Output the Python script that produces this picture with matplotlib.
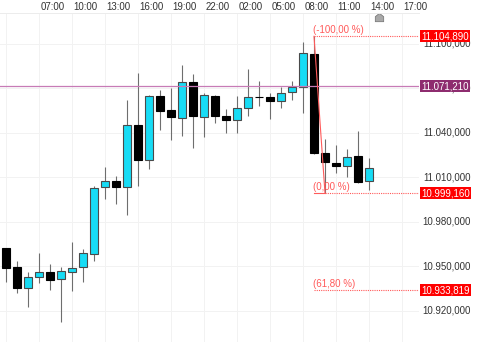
import matplotlib
matplotlib.use('Agg')
import matplotlib.pyplot as plt
from matplotlib.path import Path
import matplotlib.transforms as mtransforms
import numpy as np

plt.rcParams['font.family'] = ['Liberation Sans', 'DejaVu Sans']

# hourly candles, index 0 = 04:00
opens = [10961.9, 10949.5, 10935.4, 10942.8, 10946.0, 10941.0, 10946.0, 10949.1, 10958.3, 11003.3,
         11007.5, 11003.3, 11044.9, 11021.5, 11064.8, 11055.2, 11050.0, 11073.8, 11050.2, 11064.8,
         11051.3, 11048.4, 11056.7, 11064.3, 11063.7, 11061.4, 11067.1, 11070.9, 11092.9, 11026.0,
         11019.6, 11017.6, 11024.2, 11007.3]
highs = [10962.0, 10953.4, 10945.8, 10958.6, 10951.4, 10949.1, 10966.4, 10961.5, 11004.1, 11016.9,
         11010.9, 11061.9, 11079.9, 11065.6, 11068.7, 11069.8, 11085.5, 11079.4, 11066.4, 11065.3,
         11055.8, 11064.6, 11082.6, 11074.7, 11066.4, 11070.5, 11074.9, 11101.2, 11104.89, 11035.4,
         11031.6, 11028.7, 11041.0, 11022.6]
lows = [10939.4, 10931.6, 10922.6, 10938.7, 10933.8, 10912.0, 10933.3, 10939.4, 10953.4, 10995.0,
        10991.8, 10984.4, 11003.9, 11015.2, 11041.7, 11034.9, 11037.6, 11029.3, 11037.2, 11046.6,
        11039.9, 11039.5, 11051.1, 11058.1, 11048.9, 11056.7, 11061.9, 11053.3, 11025.3, 10999.16,
        11012.9, 11010.2, 11006.2, 11001.2]
closes = [10949.0, 10935.4, 10942.8, 10946.2, 10940.6, 10946.4, 10948.9, 10958.6, 11002.6, 11007.1,
          11003.3, 11045.1, 11021.5, 11064.8, 11054.7, 11050.2, 11073.8, 11051.1, 11065.5, 11051.3,
          11048.4, 11056.3, 11064.1, 11063.8, 11061.4, 11066.4, 11070.9, 11093.4, 11026.0, 11019.9,
          11017.4, 11023.7, 11006.8, 11015.9]

time_ticks = [3, 6, 9, 12, 15, 18, 21, 24, 27, 30, 33, 36]
time_labels = ['07:00', '10:00', '13:00', '16:00', '19:00', '22:00',
               '02:00', '05:00', '08:00', '11:00', '14:00', '17:00']
price_ticks = [10920, 10950, 10980, 11010, 11040, 11070, 11100]

ref_price = 11071.21
fib_high = 11104.89
fib_low = 10999.16
fib_618 = 10933.819
fib_start, fib_end = 28, 29


def fmt(v, dec=3):
    s = f'{v:,.{dec}f}'
    return s.replace(',', 'X').replace('.', ',').replace('X', '.')


W, H = 479, 342
fig = plt.figure(figsize=(W / 100, H / 100), dpi=100)
ax = fig.add_axes([0, 0, 419 / W, (H - 13) / H])
ax.set_xlim(-0.545, 37.545)
ax.set_ylim(10898.8, 11120.6)

# grid
for t in range(0, 37, 3):
    ax.axvline(t, color='#f2f2f2', lw=0.7, zorder=0)
for p in price_ticks:
    ax.axhline(p, color='#f2f2f2', lw=0.7, zorder=0)

# candles
x = np.arange(len(opens))
o = np.array(opens)
c = np.array(closes)
up = c >= o
ax.vlines(x, lows, highs, color='#6e6e6e', lw=0.8, zorder=2)
bottoms = np.minimum(o, c)
heights = np.maximum(np.abs(c - o), 0.4)
ax.bar(x, heights, bottom=bottoms, width=0.75,
       color=['#17dcf5' if u else '#000000' for u in up],
       edgecolor=['#4a4a4a' if u else '#000000' for u in up], linewidth=0.8, zorder=3)

# reference line
ax.axhline(ref_price, color='#c77bb6', lw=0.9, zorder=4)

# fibonacci tool
red = '#ff5a5a'
ax.plot([fib_start, fib_end], [fib_high, fib_low], color=red, lw=0.8, zorder=5)
ax.plot([fib_start, fib_end], [fib_low, fib_low], color=red, lw=0.8, zorder=5)
ax.plot([fib_end, 37.6], [fib_low, fib_low], color=red, lw=0.8, ls=(0, (1, 1)), zorder=5)
for lvl in [fib_high, fib_618]:
    ax.plot([fib_start, 37.6], [lvl, lvl], color=red, lw=0.8, ls=(0, (1, 1)), zorder=5)
for lvl, txt in [(fib_high, '(-100,00 %)'), (fib_low, '(0,00 %)'), (fib_618, '(61,80 %)')]:
    ax.annotate(txt, (fib_start - 0.05, lvl), xytext=(0, 1), textcoords='offset points',
                color=red, fontsize=7, ha='left', va='bottom', zorder=6)

for s in ['left', 'right', 'bottom']:
    ax.spines[s].set_visible(False)
ax.spines['top'].set_color('#ececec')
ax.spines['top'].set_linewidth(0.7)
ax.set_xticks([])
ax.set_yticks([])

# time labels on top
trans = mtransforms.blended_transform_factory(ax.transData, fig.transFigure)
for t, lab in zip(time_ticks, time_labels):
    ax.text(t + 0.15, 1 - 7 / H, lab, transform=trans, ha='left', va='center',
            fontsize=7, color='#333333', clip_on=False)

# current time marker
house = Path([(-1, -1), (1, -1), (1, 0.2), (0, 1), (-1, 0.2), (-1, -1)],
             [Path.MOVETO, Path.LINETO, Path.LINETO, Path.LINETO, Path.LINETO, Path.CLOSEPOLY])
ax.plot([33.9], [1 - 16.5 / H], marker=house, ms=6, color='#a8a8a8', mec='#7a7a7a', mew=0.6,
        transform=trans, clip_on=False)

# price axis labels
def ypix(v):
    return ax.transData.transform((0, v))[1] / H

for p in price_ticks:
    fig.text(471 / W, ypix(p), fmt(p), ha='right', va='center', fontsize=7, color='#333333')

# price tags drawn over the axis labels
for lvl, col in [(fib_high, '#ff0000'), (ref_price, '#8e2c6f'), (fib_low, '#ff0000'), (fib_618, '#ff0000')]:
    fig.text(421 / W, ypix(lvl), fmt(lvl), ha='left', va='center', fontsize=7, color='white',
             bbox=dict(boxstyle='square,pad=0.12', fc=col, ec='none'), zorder=10)

fig.savefig('out.png', dpi=100)
